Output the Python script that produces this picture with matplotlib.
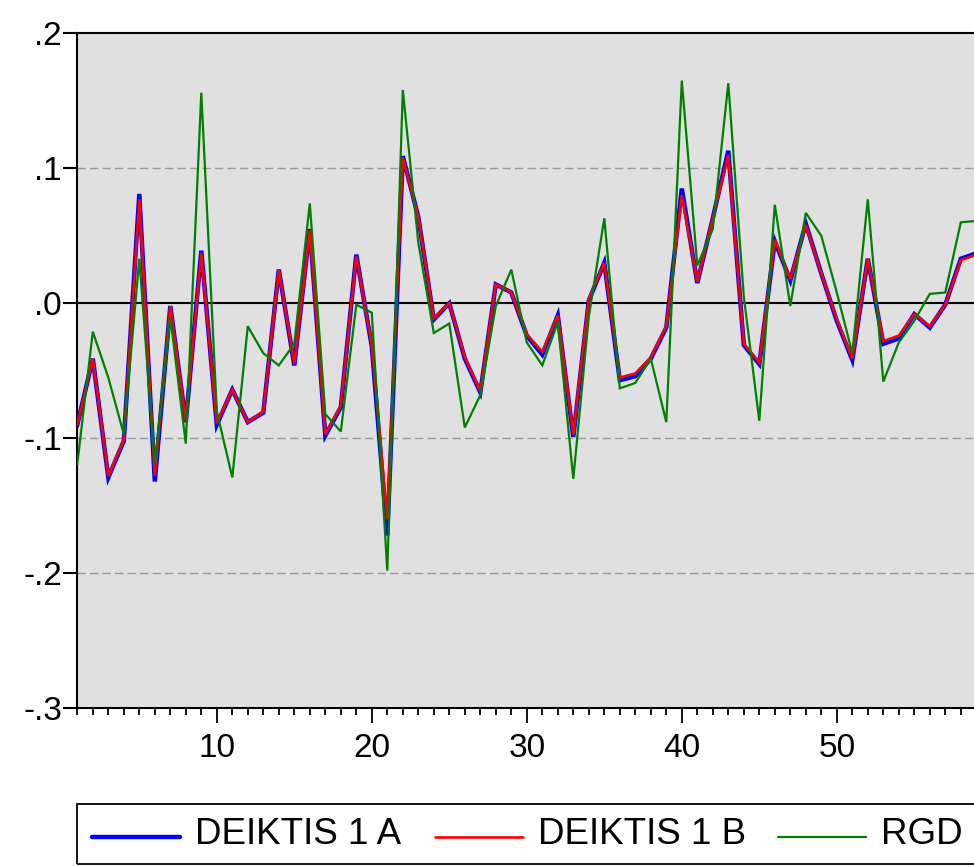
import matplotlib
matplotlib.use('Agg')
import matplotlib.pyplot as plt
from matplotlib.lines import Line2D
from matplotlib.patches import Rectangle
from matplotlib.ticker import FuncFormatter, MultipleLocator

plt.rcParams['font.family'] = ['Liberation Sans', 'DejaVu Sans']

# observation index
obs = list(range(1, 60))

deiktis_1a = [-0.090, -0.041, -0.129, -0.102, 0.081, -0.132, -0.002, -0.088, 0.039, -0.090,
              -0.064, -0.088, -0.081, 0.025, -0.046, 0.055, -0.098, -0.077, 0.036, -0.032,
              -0.172, 0.109, 0.064, -0.012, 0.000, -0.041, -0.066, 0.014, 0.008, -0.024,
              -0.038, -0.009, -0.099, 0.002, 0.030, -0.057, -0.054, -0.041, -0.018, 0.085,
              0.015, 0.063, 0.113, -0.031, -0.045, 0.046, 0.017, 0.059, 0.022, -0.013,
              -0.042, 0.033, -0.030, -0.026, -0.008, -0.018, -0.001, 0.033, 0.037]

deiktis_1b = [-0.090, -0.041, -0.128, -0.101, 0.077, -0.128, -0.002, -0.087, 0.037, -0.089,
              -0.064, -0.088, -0.080, 0.025, -0.045, 0.054, -0.097, -0.076, 0.035, -0.031,
              -0.160, 0.108, 0.064, -0.011, 0.000, -0.040, -0.065, 0.014, 0.008, -0.023,
              -0.036, -0.009, -0.097, 0.003, 0.030, -0.055, -0.052, -0.040, -0.017, 0.080,
              0.016, 0.063, 0.110, -0.030, -0.044, 0.047, 0.018, 0.058, 0.022, -0.012,
              -0.041, 0.033, -0.028, -0.024, -0.008, -0.017, -0.001, 0.032, 0.036]

rgd = [-0.119, -0.021, -0.055, -0.097, 0.033, -0.119, -0.010, -0.104, 0.156, -0.080,
       -0.129, -0.017, -0.037, -0.046, -0.030, 0.074, -0.082, -0.095, -0.001, -0.007,
       -0.198, 0.158, 0.045, -0.022, -0.015, -0.092, -0.068, -0.002, 0.025, -0.029,
       -0.046, -0.014, -0.130, -0.010, 0.063, -0.063, -0.059, -0.041, -0.088, 0.165,
       0.028, 0.055, 0.163, 0.005, -0.087, 0.073, -0.002, 0.067, 0.050, 0.008,
       -0.037, 0.077, -0.058, -0.029, -0.013, 0.007, 0.008, 0.060, 0.061]

series_names = ['DEIKTIS 1 A', 'DEIKTIS 1 B', 'RGD']
series_colors = ['#0000ff', '#ff0000', '#008000']
series_widths = [3.2, 1.9, 1.6]

W, H = 974, 866
fig = plt.figure(figsize=(W / 100, H / 100), dpi=100)


def fx(px):
    return px / W


def fy(py):
    return 1 - py / H


# axes run past the right edge of the figure
ax = fig.add_axes([fx(77.3), fy(708.3), fx(991.8) - fx(77.3), fy(33.3) - fy(708.3)])
ax.set_facecolor('#e0e0e0')
ax.set_xlim(1, 60)
ax.set_ylim(-0.3, 0.2)

for v in [0.1, -0.1, -0.2]:
    ax.axhline(v, color='#9a9a9a', lw=1.0, linestyle=(0, (6, 3)), zorder=1)
ax.axhline(0, color='black', lw=1.5, zorder=2)

for vals, c, lw in zip([deiktis_1a, deiktis_1b, rgd], series_colors, series_widths):
    ax.plot(obs, vals, color=c, lw=lw, solid_joinstyle='miter', zorder=3)

for s in ax.spines.values():
    s.set_linewidth(1.5)

ax.yaxis.set_major_locator(MultipleLocator(0.1))
ax.yaxis.set_major_formatter(FuncFormatter(
    lambda v, p: ('-' if v < -1e-9 else '') + ('%.1f' % abs(v))[1:]))
ax.tick_params(axis='y', direction='out', length=10, width=1.5, pad=1, labelsize=24)

ax.set_xticks([10, 20, 30, 40, 50])
ax.xaxis.set_minor_locator(MultipleLocator(1))
ax.tick_params(axis='x', which='major', direction='out', length=11, width=1.3, pad=7, labelsize=24)
ax.tick_params(axis='x', which='minor', direction='out', length=5, width=1.3)

# legend box along the bottom
fig.add_artist(Rectangle((fx(76.7), fy(864)), fx(1100) - fx(76.7), fy(804) - fy(864),
                         transform=fig.transFigure, fill=False, lw=1.3, edgecolor='black'))
line_spans = [(92, 180), (435, 523), (778, 866)]
for (x0, x1), name, c, lw in zip(line_spans, series_names, series_colors, series_widths):
    fig.add_artist(Line2D([fx(x0), fx(x1)], [fy(836.5), fy(836.5)], transform=fig.transFigure,
                          color=c, lw=lw, solid_capstyle='round'))
    fig.text(fx(x1 + 15), fy(835), name, fontsize=26.5, va='center', ha='left')

fig.savefig('out.png', dpi=100)
